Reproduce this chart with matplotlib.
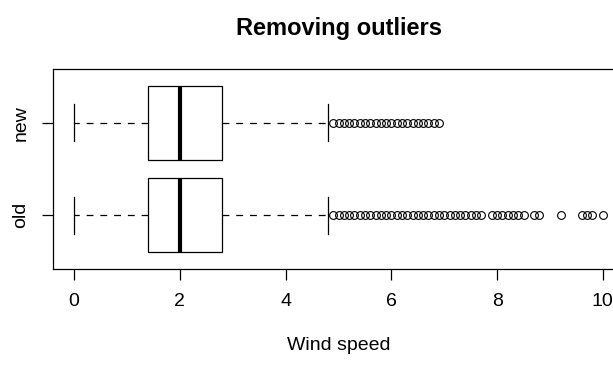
import matplotlib
matplotlib.use("Agg")
import matplotlib.pyplot as plt
import numpy as np

# ---- data ----
groups = ["old", "new"]
q1 = [1.4, 1.4]
med = [2.0, 2.0]
q3 = [2.8, 2.8]
whislo = [0.0, 0.0]
whishi = [4.8, 4.8]
old_fliers = [4.9, 5.0, 5.1, 5.2, 5.3, 5.4, 5.5, 5.6, 5.7, 5.8, 5.9, 6.0,
              6.1, 6.2, 6.3, 6.4, 6.5, 6.6, 6.7, 6.8, 6.9, 7.0, 7.1, 7.2,
              7.3, 7.4, 7.5, 7.6, 7.7, 7.9, 8.0, 8.1, 8.2, 8.3, 8.4, 8.5,
              8.7, 8.8, 9.2, 9.6, 9.7, 9.8, 10.0]
new_fliers = [4.9, 5.0, 5.1, 5.2, 5.3, 5.4, 5.5, 5.6, 5.7, 5.8, 5.9, 6.0,
              6.1, 6.2, 6.3, 6.4, 6.5, 6.6, 6.7, 6.8, 6.9]
fliers = [old_fliers, new_fliers]
xticks = [0, 2, 4, 6, 8, 10]
title = "Removing outliers"
xlabel = "Wind speed"

plt.rcParams["font.family"] = ["Liberation Sans", "DejaVu Sans"]

W, H = 613, 365
fig = plt.figure(figsize=(W / 100, H / 100), dpi=100)
left_px, right_px, top_px, bottom_px = 53, 624, 69, 269
ax = fig.add_axes([left_px / W, 1 - bottom_px / H,
                   (right_px - left_px) / W, (bottom_px - top_px) / H])

stats = []
for i, g in enumerate(groups):
    stats.append(dict(label=g, q1=q1[i], med=med[i], q3=q3[i],
                      whislo=whislo[i], whishi=whishi[i], fliers=fliers[i]))

lw = 0.9
ax.bxp(stats, positions=[1, 2], widths=0.8, vert=False, patch_artist=True,
       boxprops=dict(facecolor="white", edgecolor="black", linewidth=lw),
       medianprops=dict(color="black", linewidth=3.0, solid_capstyle="butt"),
       whiskerprops=dict(color="black", linewidth=lw, linestyle=(0, (5.5, 5.5))),
       capprops=dict(color="black", linewidth=lw),
       flierprops=dict(marker="o", markerfacecolor="none", markeredgecolor="black",
                       markersize=5.6, markeredgewidth=0.8, linestyle="none"))

ax.set_xlim(-0.4, 10.4)
ax.set_ylim(0.42, 2.58)
ax.set_xticks(xticks)
ax.set_xticklabels([str(t) for t in xticks], fontsize=14)
ax.set_yticks([1, 2])
ax.set_yticklabels(groups, fontsize=14, rotation=90, va="center")
ax.tick_params(axis="both", length=8, width=0.9, color="black")
ax.tick_params(axis="x", pad=9)
ax.tick_params(axis="y", pad=9)
for s in ax.spines.values():
    s.set_linewidth(0.9)
    s.set_color("black")

cx = (left_px + right_px) / 2 / W
fig.text(cx, 1 - 28 / H, title, ha="center", va="center",
         fontsize=17, fontweight="bold")
fig.text(cx, 1 - 345 / H, xlabel, ha="center", va="center",
         fontsize=14)

fig.savefig("out.png", dpi=100)
